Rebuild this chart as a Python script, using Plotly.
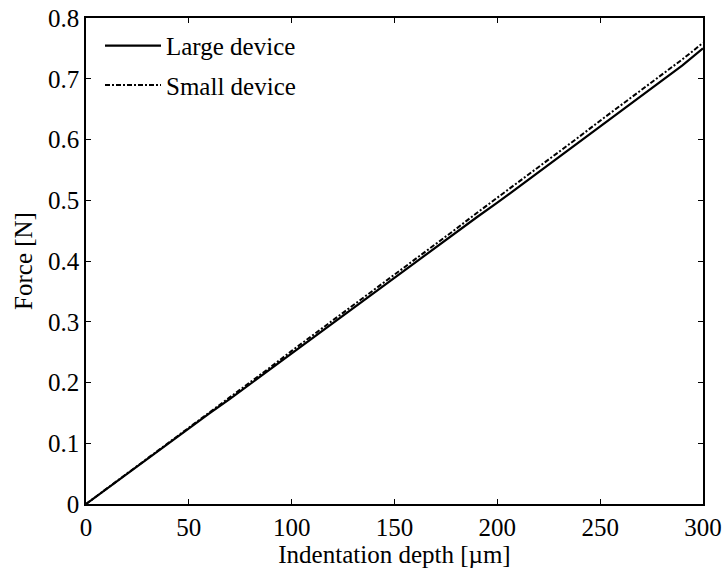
import plotly.graph_objects as go

depth = [0, 10, 20, 30, 40, 50, 60, 70, 80, 90, 100, 110, 120, 130, 140, 150,
         160, 170, 180, 190, 200, 210, 220, 230, 240, 250, 260, 270, 280, 290, 300]
force_large = [0, 0.025, 0.050, 0.074, 0.099, 0.124, 0.149, 0.173, 0.198, 0.223, 0.248,
               0.273, 0.298, 0.322, 0.347, 0.372, 0.397, 0.422, 0.447, 0.472, 0.496,
               0.521, 0.546, 0.571, 0.596, 0.621, 0.646, 0.671, 0.696, 0.722, 0.750]
force_small = [0, 0.025, 0.051, 0.076, 0.101, 0.126, 0.151, 0.176, 0.201, 0.226, 0.252,
               0.277, 0.302, 0.327, 0.352, 0.378, 0.403, 0.428, 0.453, 0.479, 0.504,
               0.529, 0.555, 0.580, 0.605, 0.631, 0.656, 0.681, 0.707, 0.732, 0.759]
x_ticks = [0, 50, 100, 150, 200, 250, 300]
y_ticks = [0, 0.1, 0.2, 0.3, 0.4, 0.5, 0.6, 0.7, 0.8]
y_tick_labels = ["0", "0.1", "0.2", "0.3", "0.4", "0.5", "0.6", "0.7", "0.8"]

font_family = "Liberation Serif"
fs = 25

fig = go.Figure()
fig.add_trace(go.Scatter(x=depth, y=force_large, mode="lines", name="Large device",
                         legendgroup="a",
                         line=dict(color="black", width=2.2)))
fig.add_trace(go.Scatter(x=depth, y=force_small, mode="lines", name="Small device",
                         legendgroup="b",
                         line=dict(color="black", width=2, dash="5px,2px,2px,2px")))

axis_common = dict(showline=True, linecolor="black", linewidth=1.5, mirror="ticks",
                   ticks="inside", ticklen=5, tickwidth=1, tickcolor="black",
                   showgrid=False, zeroline=False, automargin=False,
                   tickfont=dict(family=font_family, size=fs, color="black"))

fig.update_layout(
    width=725, height=569,
    margin=dict(l=86, r=22, t=18, b=65),
    plot_bgcolor="white", paper_bgcolor="white",
    font=dict(family=font_family, size=fs, color="black"),
    xaxis=dict(range=[0, 300], tickvals=x_ticks,
               title=dict(text="Indentation depth [µm]", standoff=6,
                          font=dict(family=font_family, size=fs)),
               **axis_common),
    yaxis=dict(range=[0, 0.8], tickvals=y_ticks, ticktext=y_tick_labels,
               title=dict(text="Force [N]", standoff=8,
                          font=dict(family=font_family, size=fs)),
               **axis_common),
    legend=dict(x=0.0227, y=0.99, xanchor="left", yanchor="top",
                bgcolor="rgba(0,0,0,0)", borderwidth=0, itemwidth=56,
                font=dict(family=font_family, size=fs), tracegroupgap=4),
    showlegend=True,
)

fig.write_html("out.html")
